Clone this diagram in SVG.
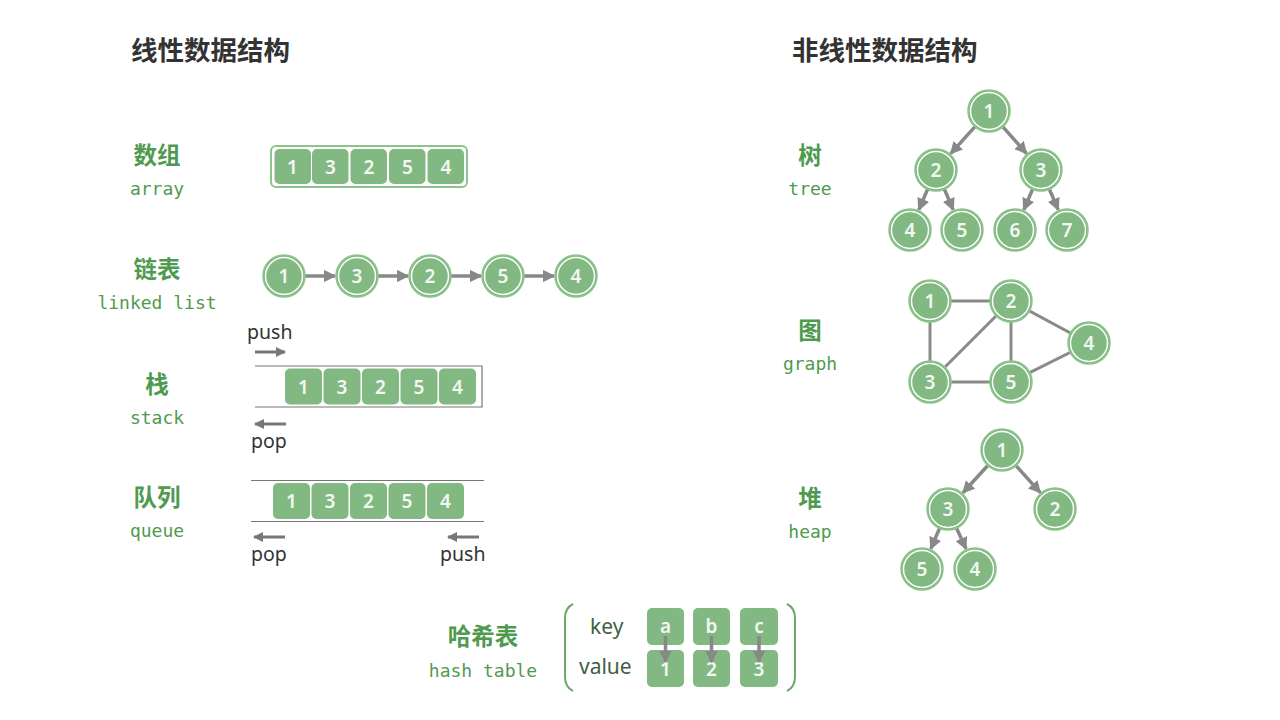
<svg xmlns="http://www.w3.org/2000/svg" width="1280" height="720" viewBox="0 0 1280 720">
<defs>
<style>
.title{font-family:"Noto Sans CJK SC","Noto Sans",sans-serif;font-weight:bold;font-size:26.5px;fill:#333333;}
.cn{font-family:"Noto Sans CJK SC","Noto Sans",sans-serif;font-weight:bold;font-size:23.5px;fill:#4f9a4f;text-anchor:middle;}
.en{font-family:"DejaVu Sans Mono",monospace;font-size:18px;fill:#4f9a4f;text-anchor:middle;}
.op{font-family:"Noto Sans",sans-serif;font-size:19.5px;fill:#333333;}
.kv{font-family:"Noto Sans",sans-serif;font-size:21px;fill:#3f5f3f;}
.num{font-family:"Noto Sans",sans-serif;font-weight:600;font-size:19px;fill:#f2f8f2;text-anchor:middle;dominant-baseline:central;}
.cell{fill:#82b882;}
.nodeO{fill:#82b882;stroke:#8cc48c;stroke-width:1.5;}
.nodeI{fill:none;stroke:#ffffff;stroke-width:1.5;}
.edge{stroke:#888888;stroke-width:3.5;fill:none;}
.gedge{stroke:#8a8a8a;stroke-width:3;fill:none;}
.opar{stroke:#777777;stroke-width:3;fill:none;}
.wall{stroke:#777777;stroke-width:1.2;fill:none;}
.brk{stroke:#6aa86a;stroke-width:2;fill:none;}
</style>
<marker id="ah" viewBox="0 0 10 10" refX="9" refY="5" markerWidth="3.6" markerHeight="3.6" orient="auto" markerUnits="strokeWidth">
<path d="M0,0 L10,5 L0,10 z" fill="#888888"/>
</marker>
<marker id="ah2" viewBox="0 0 10 10" refX="9" refY="5" markerWidth="3.4" markerHeight="3.4" orient="auto" markerUnits="strokeWidth">
<path d="M0,0 L10,5 L0,10 z" fill="#777777"/>
</marker>
</defs>
<rect width="1280" height="720" fill="#ffffff"/>

<text class="title" x="131" y="60">线性数据结构</text>
<text class="title" x="792" y="60">非线性数据结构</text>

<g id="labels">
<text class="cn" x="157" y="164">数组</text>
<text class="en" x="157" y="195">array</text>
<text class="cn" x="157" y="278">链表</text>
<text class="en" x="157" y="309">linked list</text>
<text class="cn" x="157" y="393">栈</text>
<text class="en" x="157" y="424">stack</text>
<text class="cn" x="157" y="506">队列</text>
<text class="en" x="157" y="537">queue</text>
<text class="cn" x="810" y="164">树</text>
<text class="en" x="810" y="195">tree</text>
<text class="cn" x="810" y="339">图</text>
<text class="en" x="810" y="370">graph</text>
<text class="cn" x="810" y="507">堆</text>
<text class="en" x="810" y="538">heap</text>
<text class="cn" x="483" y="645">哈希表</text>
<text class="en" x="483" y="677">hash table</text>
</g>

<g id="connectors">
<!-- linked list -->
<line class="edge" x1="305" y1="276" x2="335" y2="276" marker-end="url(#ah)"/>
<line class="edge" x1="378" y1="276" x2="408" y2="276" marker-end="url(#ah)"/>
<line class="edge" x1="451" y1="276" x2="481" y2="276" marker-end="url(#ah)"/>
<line class="edge" x1="524" y1="276" x2="554" y2="276" marker-end="url(#ah)"/>
<!-- tree -->
<line class="edge" x1="975" y1="126.6" x2="950.7" y2="153.6" marker-end="url(#ah)"/>
<line class="edge" x1="1002.9" y1="126.8" x2="1026.5" y2="153.5" marker-end="url(#ah)"/>
<line class="edge" x1="927.6" y1="189.3" x2="918.8" y2="209.8" marker-end="url(#ah)"/>
<line class="edge" x1="944.4" y1="189.3" x2="953.2" y2="209.8" marker-end="url(#ah)"/>
<line class="edge" x1="1032.6" y1="189.3" x2="1023.8" y2="209.8" marker-end="url(#ah)"/>
<line class="edge" x1="1049.4" y1="189.3" x2="1058.2" y2="209.8" marker-end="url(#ah)"/>
<!-- graph -->
<line class="gedge" x1="930" y1="301" x2="1011" y2="301"/>
<line class="gedge" x1="930" y1="301" x2="930" y2="382"/>
<line class="gedge" x1="930" y1="382" x2="1011" y2="301"/>
<line class="gedge" x1="1011" y1="301" x2="1011" y2="382"/>
<line class="gedge" x1="930" y1="382" x2="1011" y2="382"/>
<line class="gedge" x1="1011" y1="301" x2="1089" y2="343"/>
<line class="gedge" x1="1011" y1="382" x2="1089" y2="343"/>
<!-- heap -->
<line class="edge" x1="987.8" y1="465.5" x2="962.9" y2="492.8" marker-end="url(#ah)"/>
<line class="edge" x1="1016" y1="465.6" x2="1040.3" y2="492.6" marker-end="url(#ah)"/>
<line class="edge" x1="939.6" y1="528.3" x2="930.8" y2="548.8" marker-end="url(#ah)"/>
<line class="edge" x1="956.6" y1="528.2" x2="966" y2="548.9" marker-end="url(#ah)"/>
<!-- stack / queue ops -->
<line class="opar" x1="255" y1="352" x2="285" y2="352" marker-end="url(#ah2)"/>
<line class="opar" x1="286" y1="424" x2="255" y2="424" marker-end="url(#ah2)"/>
<line class="opar" x1="285" y1="537" x2="254" y2="537" marker-end="url(#ah2)"/>
<line class="opar" x1="479" y1="537" x2="448" y2="537" marker-end="url(#ah2)"/>
</g>

<g id="array">
<rect x="271" y="146" width="196" height="41" rx="5" fill="#ffffff" stroke="#8cc48c" stroke-width="2"/>
<rect class="cell" x="274.5" y="149" width="36.5" height="35" rx="5"/>
<rect class="cell" x="312" y="149" width="36.5" height="35" rx="5"/>
<rect class="cell" x="350.5" y="149" width="36.5" height="35" rx="5"/>
<rect class="cell" x="389" y="149" width="36.5" height="35" rx="5"/>
<rect class="cell" x="427.5" y="149" width="36.5" height="35" rx="5"/>
<text class="num" x="292.5" y="166.5">1</text>
<text class="num" x="330.5" y="166.5">3</text>
<text class="num" x="369" y="166.5">2</text>
<text class="num" x="407.5" y="166.5">5</text>
<text class="num" x="446" y="166.5">4</text>
</g>

<g id="linkedlist">
<g><circle class="nodeO" cx="284" cy="276" r="21"/><circle class="nodeI" cx="284" cy="276" r="18.5"/><text class="num" x="284" y="276">1</text></g>
<g><circle class="nodeO" cx="357" cy="276" r="21"/><circle class="nodeI" cx="357" cy="276" r="18.5"/><text class="num" x="357" y="276">3</text></g>
<g><circle class="nodeO" cx="430" cy="276" r="21"/><circle class="nodeI" cx="430" cy="276" r="18.5"/><text class="num" x="430" y="276">2</text></g>
<g><circle class="nodeO" cx="503" cy="276" r="21"/><circle class="nodeI" cx="503" cy="276" r="18.5"/><text class="num" x="503" y="276">5</text></g>
<g><circle class="nodeO" cx="576" cy="276" r="21"/><circle class="nodeI" cx="576" cy="276" r="18.5"/><text class="num" x="576" y="276">4</text></g>
</g>

<g id="stack">
<text class="op" x="247" y="339">push</text>
<path class="wall" d="M255,366 H482 V407 H255"/>
<rect class="cell" x="285" y="368.5" width="37" height="36" rx="5"/>
<rect class="cell" x="323.5" y="368.5" width="37" height="36" rx="5"/>
<rect class="cell" x="362" y="368.5" width="37" height="36" rx="5"/>
<rect class="cell" x="400.5" y="368.5" width="37" height="36" rx="5"/>
<rect class="cell" x="439" y="368.5" width="37" height="36" rx="5"/>
<text class="num" x="303.5" y="386.5">1</text>
<text class="num" x="342" y="386.5">3</text>
<text class="num" x="380.5" y="386.5">2</text>
<text class="num" x="419" y="386.5">5</text>
<text class="num" x="457.5" y="386.5">4</text>
<text class="op" x="251" y="448">pop</text>
</g>

<g id="queue">
<line class="wall" x1="251" y1="480.5" x2="484" y2="480.5"/>
<line class="wall" x1="251" y1="521.5" x2="484" y2="521.5"/>
<rect class="cell" x="273" y="483" width="37" height="36" rx="5"/>
<rect class="cell" x="311.5" y="483" width="37" height="36" rx="5"/>
<rect class="cell" x="350" y="483" width="37" height="36" rx="5"/>
<rect class="cell" x="388.5" y="483" width="37" height="36" rx="5"/>
<rect class="cell" x="427" y="483" width="37" height="36" rx="5"/>
<text class="num" x="291.5" y="501">1</text>
<text class="num" x="330" y="501">3</text>
<text class="num" x="368.5" y="501">2</text>
<text class="num" x="407" y="501">5</text>
<text class="num" x="445.5" y="501">4</text>
<text class="op" x="251" y="561">pop</text>
<text class="op" x="440" y="561">push</text>
</g>

<g id="tree">
<g><circle class="nodeO" cx="989" cy="111" r="21"/><circle class="nodeI" cx="989" cy="111" r="18.5"/><text class="num" x="989" y="111">1</text></g>
<g><circle class="nodeO" cx="936" cy="170" r="21"/><circle class="nodeI" cx="936" cy="170" r="18.5"/><text class="num" x="936" y="170">2</text></g>
<g><circle class="nodeO" cx="1041" cy="170" r="21"/><circle class="nodeI" cx="1041" cy="170" r="18.5"/><text class="num" x="1041" y="170">3</text></g>
<g><circle class="nodeO" cx="910" cy="230" r="21"/><circle class="nodeI" cx="910" cy="230" r="18.5"/><text class="num" x="910" y="230">4</text></g>
<g><circle class="nodeO" cx="962" cy="230" r="21"/><circle class="nodeI" cx="962" cy="230" r="18.5"/><text class="num" x="962" y="230">5</text></g>
<g><circle class="nodeO" cx="1015" cy="230" r="21"/><circle class="nodeI" cx="1015" cy="230" r="18.5"/><text class="num" x="1015" y="230">6</text></g>
<g><circle class="nodeO" cx="1067" cy="230" r="21"/><circle class="nodeI" cx="1067" cy="230" r="18.5"/><text class="num" x="1067" y="230">7</text></g>
</g>

<g id="graph">
<g><circle class="nodeO" cx="930" cy="301" r="21"/><circle class="nodeI" cx="930" cy="301" r="18.5"/><text class="num" x="930" y="301">1</text></g>
<g><circle class="nodeO" cx="1011" cy="301" r="21"/><circle class="nodeI" cx="1011" cy="301" r="18.5"/><text class="num" x="1011" y="301">2</text></g>
<g><circle class="nodeO" cx="1089" cy="343" r="21"/><circle class="nodeI" cx="1089" cy="343" r="18.5"/><text class="num" x="1089" y="343">4</text></g>
<g><circle class="nodeO" cx="930" cy="382" r="21"/><circle class="nodeI" cx="930" cy="382" r="18.5"/><text class="num" x="930" y="382">3</text></g>
<g><circle class="nodeO" cx="1011" cy="382" r="21"/><circle class="nodeI" cx="1011" cy="382" r="18.5"/><text class="num" x="1011" y="382">5</text></g>
</g>

<g id="heap">
<g><circle class="nodeO" cx="1002" cy="450" r="21"/><circle class="nodeI" cx="1002" cy="450" r="18.5"/><text class="num" x="1002" y="450">1</text></g>
<g><circle class="nodeO" cx="948" cy="509" r="21"/><circle class="nodeI" cx="948" cy="509" r="18.5"/><text class="num" x="948" y="509">3</text></g>
<g><circle class="nodeO" cx="1055" cy="509" r="21"/><circle class="nodeI" cx="1055" cy="509" r="18.5"/><text class="num" x="1055" y="509">2</text></g>
<g><circle class="nodeO" cx="922" cy="569" r="21"/><circle class="nodeI" cx="922" cy="569" r="18.5"/><text class="num" x="922" y="569">5</text></g>
<g><circle class="nodeO" cx="975" cy="569" r="21"/><circle class="nodeI" cx="975" cy="569" r="18.5"/><text class="num" x="975" y="569">4</text></g>
</g>

<g id="hashtable">
<path class="brk" d="M573,604 Q565,608 565,618 V677 Q565,687 573,691"/>
<path class="brk" d="M787,604 Q795,608 795,618 V677 Q795,687 787,691"/>
<text class="kv" x="590" y="634">key</text>
<text class="kv" x="579" y="674">value</text>
<rect class="cell" x="647" y="608" width="37" height="37" rx="5"/>
<rect class="cell" x="693" y="608" width="37" height="37" rx="5"/>
<rect class="cell" x="740" y="608" width="38" height="37" rx="5"/>
<rect class="cell" x="647" y="650" width="37" height="37" rx="5"/>
<rect class="cell" x="693" y="650" width="37" height="37" rx="5"/>
<rect class="cell" x="740" y="650" width="38" height="37" rx="5"/>
<text class="num" x="665.5" y="626">a</text>
<text class="num" x="711.5" y="626">b</text>
<text class="num" x="759" y="626">c</text>
<text class="num" x="665.5" y="669">1</text>
<text class="num" x="711.5" y="669">2</text>
<text class="num" x="759" y="669">3</text>
<line class="edge" x1="665.5" y1="636" x2="665.5" y2="662" stroke-width="2.5" marker-end="url(#ah)"/>
<line class="edge" x1="711.5" y1="636" x2="711.5" y2="662" stroke-width="2.5" marker-end="url(#ah)"/>
<line class="edge" x1="759" y1="636" x2="759" y2="662" stroke-width="2.5" marker-end="url(#ah)"/>
</g>
</svg>
